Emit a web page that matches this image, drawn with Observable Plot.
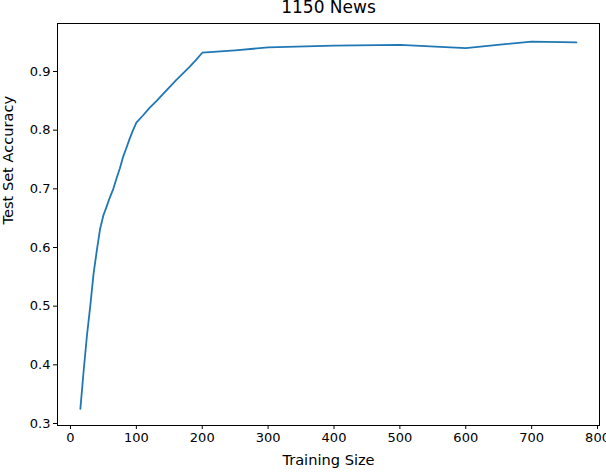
<!DOCTYPE html>
<html>
<head>
<meta charset="utf-8">
<script src="https://cdn.jsdelivr.net/npm/d3@7"></script>
<script src="https://cdn.jsdelivr.net/npm/@observablehq/plot@0.6"></script>
<style>
  html, body { margin: 0; padding: 0; background: #fff; }
  svg { display: block; }
</style>
</head>
<body>
<div id="chart"></div>
<script>
const title = "1150 News";
const xLabel = "Training Size";
const yLabel = "Test Set Accuracy";

const trainingSize = [15, 20, 25, 30, 35, 40, 45, 50, 55, 60, 65, 70, 75, 80, 85, 90, 95, 100,
  110, 120, 130, 140, 150, 160, 170, 180, 190, 200, 250, 300, 400, 500, 600, 700, 768];
const accuracy = [0.325, 0.39, 0.45, 0.50, 0.555, 0.595, 0.632, 0.655, 0.67, 0.686, 0.70, 0.718, 0.735, 0.755, 0.77, 0.786, 0.80, 0.813,
  0.825, 0.838, 0.849, 0.861, 0.873, 0.885, 0.896, 0.907, 0.919, 0.932, 0.936, 0.941, 0.944, 0.9455, 0.940, 0.951, 0.9495];

const xTicks = [0, 100, 200, 300, 400, 500, 600, 700, 800];
const yTicks = [0.3, 0.4, 0.5, 0.6, 0.7, 0.8, 0.9];

const data = trainingSize.map((x, i) => ({x, y: accuracy[i]}));

const chart = Plot.plot({
  width: 606,
  height: 472,
  marginLeft: 57,
  marginRight: 7,
  marginTop: 23,
  marginBottom: 47,
  style: {fontFamily: "DejaVu Sans", fontSize: "13px", color: "#000", background: "#fff", overflow: "visible"},
  x: {domain: [-19.7, 803], ticks: xTicks, tickFormat: d => String(d), label: null},
  y: {domain: [0.2966, 0.9818], ticks: yTicks, tickFormat: d => d.toFixed(1), label: null},
  marks: [
    Plot.axisX({ticks: xTicks, tickSize: 4, tickPadding: 3, stroke: "#000", fontSize: 13, label: null, tickFormat: d => String(d)}),
    Plot.axisY({ticks: yTicks, tickSize: 4, tickPadding: 3, stroke: "#000", fontSize: 13, label: null, tickFormat: d => d.toFixed(1)}),
    Plot.line(data, {x: "x", y: "y", stroke: "#1f77b4", strokeWidth: 1.8}),
    Plot.frame({stroke: "#000", strokeWidth: 1}),
    Plot.text([title], {frameAnchor: "top", dy: -11, lineAnchor: "bottom", text: d => d, fontSize: 17, fill: "#000"}),
    Plot.text([xLabel], {frameAnchor: "bottom", dy: 39, text: d => d, fontSize: 14.6, fill: "#000"}),
    Plot.text([yLabel], {frameAnchor: "left", dx: -49, rotate: -90, text: d => d, fontSize: 14.6, fill: "#000"})
  ]
});
document.getElementById("chart").appendChild(chart);
</script>
</body>
</html>
